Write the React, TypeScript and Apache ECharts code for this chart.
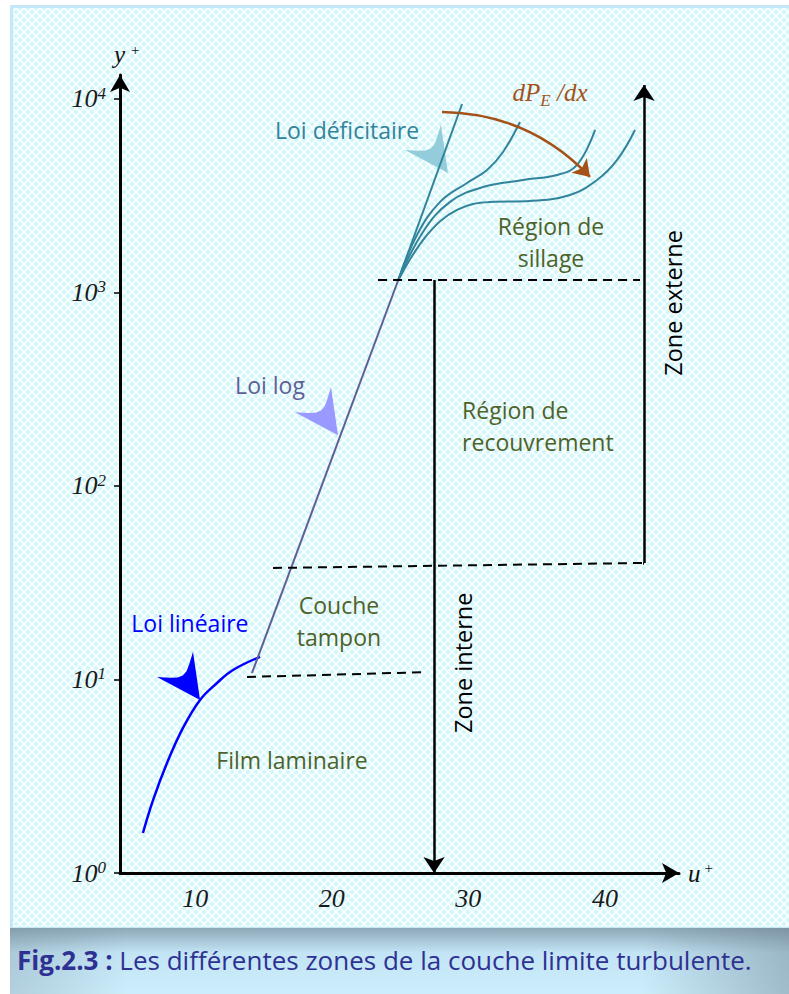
import React, { useEffect, useRef } from "react";
import * as echarts from "echarts";

// ---------------- data (u+ , y+) ----------------
const yDecades = [0, 1, 2, 3, 4]; // tick labels 10^0 .. 10^4
const uTicks = [10, 20, 30, 40]; // u+ tick labels
const uMin = 4.5;
const uMax = 45.42;
const yPlusMax = 13300;

const loiLineaire = [
  [6.18, 1.61], [6.92, 2.38], [7.94, 3.7], [9.11, 5.62], [10.36, 7.84],
  [11.6, 9.59], [12.77, 11.2], [14.75, 13.1],
];
const loiLog = [[14.16, 10.8], [24.85, 1150]];
const deficitStraight = [[24.85, 1150], [29.54, 9420]];
const deficitA = [
  [24.85, 1150], [26.24, 1983], [27.93, 2938], [29.9, 3681], [31.37, 4296],
  [32.54, 5321], [33.78, 7603],
];
const deficitB = [
  [24.85, 1150], [26.68, 2055], [28.66, 2938], [31.08, 3509], [34.0, 3813],
  [36.49, 4049], [37.96, 4559], [39.28, 6918],
];
const deficitC = [
  [24.85, 1150], [26.98, 1983], [29.17, 2669], [31.59, 2938], [34.52, 2971],
  [37.44, 3192], [39.42, 3813], [40.89, 4842], [42.2, 6918],
];
const pressureGradient = [[28.07, 8570], [38.91, 3955]];
const limitLinear = [[13.8, 10.3], [26.68, 10.9]];
const limitBuffer = [[15.7, 37.7], [42.79, 40.0]];
const limitLog = [[23.39, 1160], [42.57, 1160]];
const zoneInterne = [[27.49, 1160], [27.49, 1.0]];
const zoneExterne = [[42.86, 40.0], [42.86, 11810]];
const zoneExterneFoot = [[42.79, 40.0], [42.86, 40.0]];

const dartTipU = [10.36, 20.46, 28.51];
const dartTipY = [7.84, 183, 4146];

const annotationTexts = [
  "Loi déficitaire",
  "{a|dP}{s|E}{a| /dx}",
  "Région de\nsillage",
  "Loi log",
  "Région de\nrecouvrement",
  "Couche\ntampon",
  "Loi linéaire",
  "Film laminaire",
  "Zone interne",
  "Zone externe",
];
const annotationU = [21.12, 35.98, 36.05, 15.48, 29.54, 20.53, 9.62, 17.09, 29.61, 44.99];
const annotationY = [6918, 10740, 1834, 333, 204, 20.1, 19.6, 3.84, 12.2, 883];

// ---------------- styles ----------------
const SERIF = "'Liberation Serif', 'Times New Roman', serif";
const SANS = "'Open Sans', 'Noto Sans', sans-serif";
const OLIVE = "#4f6228";
const TEAL = "#31849b";
const SLATE = "#5f5f98";
const BLUE = "#0000ff";
const BROWN = "#a4511a";

const annotationStyle = [
  { color: TEAL, size: 23, align: "center", rot: 0 },
  { color: BROWN, size: 24, align: "center", rot: 0 },
  { color: OLIVE, size: 23, align: "center", rot: 0 },
  { color: SLATE, size: 23, align: "center", rot: 0 },
  { color: OLIVE, size: 23, align: "left", rot: 0 },
  { color: OLIVE, size: 23, align: "center", rot: 0 },
  { color: BLUE, size: 23, align: "center", rot: 0 },
  { color: OLIVE, size: 23, align: "center", rot: 0 },
  { color: "#000000", size: 23.5, align: "center", rot: Math.PI / 2 },
  { color: "#000000", size: 23.5, align: "center", rot: Math.PI / 2 },
];
const dartColors = [BLUE, "#9999ff", "#93cddc"];

const lg = (v: number) => Math.log10(v);
const toXY = (pts: number[][]) => pts.map(([u, y]) => [u, lg(y)]);

const tile =
  "<svg xmlns='http://www.w3.org/2000/svg' width='8' height='8'>" +
  "<rect width='8' height='8' fill='#d2f6fa'/>" +
  "<path d='M0 0L8 8M8 0L0 8' stroke='#ffffff' stroke-width='1.6' stroke-opacity='0.9'/></svg>";
const tileUrl = "data:image/svg+xml;charset=utf-8," + encodeURIComponent(tile);

function curve(name: string, pts: number[][], color: string, width: number, smooth: number | boolean) {
  return {
    type: "line",
    name,
    data: toXY(pts),
    showSymbol: false,
    symbol: "none",
    smooth,
    lineStyle: { color, width },
    z: 4,
    silent: true,
  };
}

function seg(pts: number[][], color: string, width: number, type: any, arrow: boolean, curveness = 0) {
  return {
    type: "lines",
    coordinateSystem: "cartesian2d",
    data: [{ coords: toXY(pts) }],
    symbol: arrow ? ["none", "arrow"] : ["none", "none"],
    symbolSize: arrow ? 16 : 0,
    lineStyle: { color, width, type, curveness, opacity: 1 },
    z: 5,
    silent: true,
  };
}

export default function App() {
  const ref = useRef<HTMLDivElement>(null);

  useEffect(() => {
    if (!ref.current) return;
    const chart = echarts.init(ref.current, undefined, { renderer: "svg" });

    const option: any = {
      animation: false,
      backgroundColor: "#ffffff",
      grid: { left: 120, right: 110, top: 75, bottom: 121, containLabel: false, outerBoundsMode: "none" },
      xAxis: {
        type: "value",
        min: uMin,
        max: uMax,
        splitLine: { show: false },
        axisLine: {
          show: true,
          onZero: false,
          symbol: ["none", "arrow"],
          symbolSize: [15, 17],
          lineStyle: { color: "#000", width: 3 },
        },
        axisTick: { show: false },
        axisLabel: {
          customValues: uTicks,
          margin: 12,
          fontFamily: SERIF,
          fontStyle: "italic",
          fontSize: 26,
          color: "#1a1a1a",
          formatter: (v: number) => String(v),
        },
        name: "{i|u}{s|+}",
        nameLocation: "end",
        nameGap: 9,
        nameTextStyle: {
          align: "left",
          verticalAlign: "middle",
          rich: {
            i: { fontFamily: SERIF, fontStyle: "italic", fontSize: 25, color: "#111" },
            s: { fontFamily: SERIF, fontSize: 15, color: "#111", verticalAlign: "top", padding: [0, 0, 0, 4] },
          },
        },
      },
      yAxis: {
        type: "value",
        min: 0,
        max: lg(yPlusMax),
        splitLine: { show: false },
        axisLine: {
          show: true,
          onZero: false,
          symbol: ["none", "arrow"],
          symbolSize: [15, 17],
          lineStyle: { color: "#000", width: 3 },
        },
        axisTick: { show: true, customValues: yDecades, length: 6, lineStyle: { color: "#000", width: 1.5 } },
        axisLabel: {
          customValues: yDecades,
          margin: 14,
          fontFamily: SERIF,
          fontStyle: "italic",
          fontSize: 26,
          color: "#1a1a1a",
          formatter: (v: number) => `{b|10}{s|${Math.round(v)}}`,
          rich: {
            b: { fontFamily: SERIF, fontStyle: "italic", fontSize: 26, color: "#1a1a1a", lineHeight: 28 },
            s: { fontFamily: SERIF, fontStyle: "italic", fontSize: 17, color: "#1a1a1a", verticalAlign: "top", lineHeight: 18 },
          },
        },
        name: "{i|y}{s|+}",
        nameLocation: "end",
        nameGap: 8,
        nameTextStyle: {
          align: "left",
          padding: [0, 0, 0, -6],
          rich: {
            i: { fontFamily: SERIF, fontStyle: "italic", fontSize: 25, color: "#111" },
            s: { fontFamily: SERIF, fontSize: 15, color: "#111", verticalAlign: "top", padding: [0, 0, 0, 6] },
          },
        },
      },
      graphic: {
        elements: [
          {
            type: "rect",
            z: -10,
            silent: true,
            shape: { x: 11.5, y: 6.5, width: 790, height: 922 },
            style: {
              fill: { image: tileUrl, repeat: "repeat", imageWidth: 8, imageHeight: 8 },
              stroke: "#c4e8f7",
              lineWidth: 3,
            },
          },
          {
            type: "rect",
            z: -9,
            silent: true,
            shape: { x: 10, y: 928, width: 790, height: 70 },
            style: {
              fill: {
                type: "linear", x: 0, y: 0, x2: 0, y2: 1,
                colorStops: [
                  { offset: 0, color: "#8ea8b8" },
                  { offset: 0.35, color: "#c2e4f4" },
                  { offset: 1, color: "#cdeefc" },
                ],
              },
            },
          },
          {
            type: "rect",
            z: -8,
            silent: true,
            shape: { x: 10, y: 928, width: 790, height: 70 },
            style: {
              fill: {
                type: "linear", x: 0, y: 0, x2: 1, y2: 0,
                colorStops: [
                  { offset: 0, color: "rgba(100,120,135,0.25)" },
                  { offset: 0.15, color: "rgba(100,120,135,0)" },
                  { offset: 0.8, color: "rgba(100,120,135,0)" },
                  { offset: 1, color: "rgba(100,120,135,0.45)" },
                ],
              },
            },
          },
          {
            type: "text",
            z: 10,
            silent: true,
            x: 17,
            y: 960,
            style: {
              text: "{b|Fig.2.3 :}{r| Les différentes zones de la couche limite turbulente.}",
              verticalAlign: "middle",
              rich: {
                b: { fontFamily: SANS, fontWeight: "bold", fontSize: 26, fill: "#2e3192" },
                r: { fontFamily: SANS, fontSize: 26, fill: "#2e3192" },
              },
            },
          },
        ],
      },
      series: [
        {
          type: "custom",
          name: "darts",
          data: dartTipU.map((u, i) => [u, lg(dartTipY[i])]),
          encode: { x: 0, y: 1 },
          z: 3,
          silent: true,
          renderItem: (params: any, api: any) => {
            const tip = api.coord([api.value(0), api.value(1)]);
            const d = [0.576, 0.818];
            const n = [-d[1], d[0]];
            const len = 43.5;
            const hw = 22;
            const pt = (a: number, b: number) => [
              tip[0] + d[0] * a * len + n[0] * b * hw,
              tip[1] + d[1] * a * len + n[1] * b * hw,
            ];
            return {
              type: "polygon",
              shape: {
                points: [
                  pt(0, 0), pt(-1, -1), pt(-0.82, -0.55), pt(-0.72, -0.25), pt(-0.69, 0),
                  pt(-0.72, 0.25), pt(-0.82, 0.55), pt(-1, 1),
                ],
              },
              style: { fill: dartColors[params.dataIndex] },
            };
          },
        },
        curve("Loi linéaire", loiLineaire, BLUE, 2.5, 0.4),
        curve("Loi log", loiLog, SLATE, 2, false),
        curve("Loi déficitaire", deficitStraight, TEAL, 2, false),
        curve("Déficit A", deficitA, TEAL, 2, 0.4),
        curve("Déficit B", deficitB, TEAL, 2, 0.4),
        curve("Déficit C", deficitC, TEAL, 2, 0.4),
        seg(limitLinear, "#000", 2, [9, 6], false),
        seg(limitBuffer, "#000", 2, [9, 6], false),
        seg(limitLog, "#000", 2, [9, 6], false),
        seg(zoneInterne, "#000", 2.5, "solid", true),
        seg(zoneExterne, "#000", 2.5, "solid", true),
        seg(zoneExterneFoot, "#000", 2.5, "solid", false),
        seg(pressureGradient, BROWN, 2.5, "solid", true, 0.21),
        {
          type: "custom",
          name: "annotations",
          data: annotationU.map((u, i) => [u, lg(annotationY[i])]),
          encode: { x: 0, y: 1 },
          z: 6,
          silent: true,
          renderItem: (params: any, api: any) => {
            const i = params.dataIndex;
            const p = api.coord([api.value(0), api.value(1)]);
            const s = annotationStyle[i];
            return {
              type: "text",
              x: p[0],
              y: p[1],
              rotation: s.rot,
              style: {
                text: annotationTexts[i],
                fill: s.color,
                fontFamily: SANS,
                fontSize: s.size,
                align: s.align,
                verticalAlign: "middle",
                lineHeight: 32,
                rich: {
                  a: { fontFamily: SERIF, fontStyle: "italic", fontSize: 25, fill: BROWN },
                  s: { fontFamily: SERIF, fontStyle: "italic", fontSize: 17, fill: BROWN, verticalAlign: "bottom", lineHeight: 18 },
                },
              },
            };
          },
        },
      ],
    };

    chart.setOption(option);
    return () => chart.dispose();
  }, []);

  return (
    <div
      ref={ref}
      style={{ position: "absolute", left: 0, top: 0, width: 789, height: 994 }}
    />
  );
}
